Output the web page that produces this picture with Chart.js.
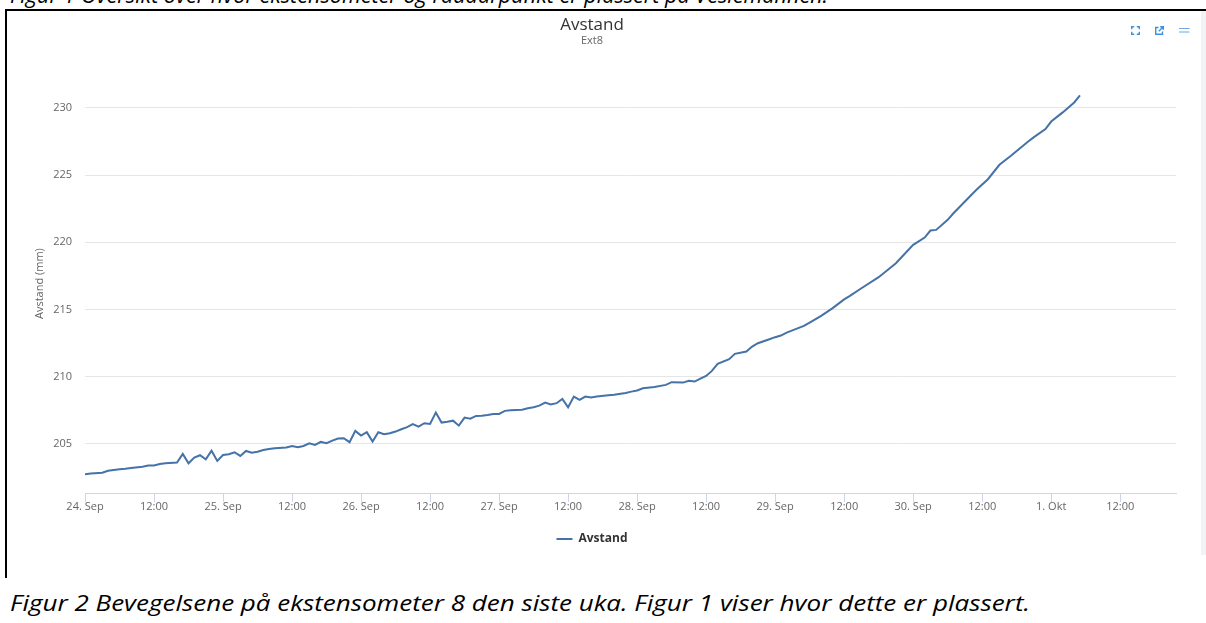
<!DOCTYPE html>
<html>
<head>
<meta charset="utf-8">
<script src="https://cdn.jsdelivr.net/npm/chart.js@4.4.0/dist/chart.umd.min.js"></script>
<style>
html,body{margin:0;padding:0;background:#fff;width:1206px;height:623px;overflow:hidden;position:relative;font-family:"Open Sans",sans-serif;}
#wrap{position:absolute;left:8px;top:11px;width:1206px;height:544px;}
.cap{position:absolute;left:10px;font-family:"Open Sans",sans-serif;font-style:italic;font-size:22px;color:#000;white-space:nowrap;transform-origin:0 0;line-height:26px;}
#cap1{top:-19px;}
#cap2{top:589px;}
#hline{position:absolute;left:5px;top:9px;width:1201px;height:2px;background:#000;}
#vline{position:absolute;left:5px;top:9px;width:2px;height:569px;background:#000;}
#rstrip{position:absolute;left:1201px;top:11px;width:5px;height:544px;background:#f1f3f5;}
.ico{position:absolute;top:26px;}
</style>
</head>
<body>
<div id="cap1" class="cap">Figur 1 Oversikt over hvor ekstensometer og raudarpunkt er plassert på Veslemannen.</div>
<div id="wrap"><canvas id="c" width="1206" height="544" style="width:1206px;height:544px;"></canvas></div>
<div id="hline"></div>
<div id="vline"></div>
<div id="rstrip"></div>
<svg class="ico" style="left:1131px" width="9" height="9" viewBox="0 0 9 9">
  <g stroke="#3d8fe0" stroke-width="1.4" fill="none">
    <path d="M0.7 3.2V0.7H3.2M5.8 0.7H8.3V3.2M8.3 5.8V8.3H5.8M3.2 8.3H0.7V5.8"/>
  </g>
</svg>
<svg class="ico" style="left:1155px" width="9" height="9" viewBox="0 0 9 9">
  <g stroke="#3d8fe0" stroke-width="1.4" fill="none">
    <path d="M3.5 1.5H0.7V8.3H7.5V5.5"/>
    <path d="M3.8 5.2L8.2 0.8M5.2 0.7H8.3V3.8"/>
  </g>
</svg>
<svg class="ico" style="left:1179px;top:27px" width="11" height="7" viewBox="0 0 11 7">
  <g stroke="#6da7e8" stroke-width="1.2">
    <path d="M0 1.5H10.5M0 5H10.5"/>
  </g>
</svg>
<div id="cap2" class="cap">Figur 2 Bevegelsene på ekstensometer 8 den siste uka. Figur 1 viser hvor dette er plassert.</div>
<script>
// ---- data (hours since 24. Sep 00:00) ----
const hours = [0,1,3,4,6,7,8,10,11,12,13,14,16,17,18,19,20,21,22,23,24,25,26,27,28,29,30,31,32,33,35,36,37,38,39,40,41,42,43,44,45,46,47,48,49,50,51,52,53,54,55,56,57,58,59,60,61,62,63,64,65,66,67,68,69,70,71,72,73,74,75,76,77,78,79,80,81,82,83,84,85,86,87,88,89,91,92,94,95,96,97,99,101,102,104,105,106,107,108,109,110,112,113,115,116,117,119,120,121,122,124,125,126,128,130,132,133,135,138,141,144,146,147,148,150,151,153,155,157,159,161,164,165,167,168,170,172,173];
const avstand = [202.74,202.80,202.86,203.01,203.12,203.16,203.21,203.31,203.39,203.39,203.51,203.56,203.61,204.26,203.56,203.98,204.16,203.86,204.50,203.74,204.18,204.23,204.38,204.11,204.48,204.35,204.42,204.55,204.62,204.68,204.73,204.85,204.75,204.85,205.05,204.93,205.15,205.06,205.25,205.40,205.42,205.13,205.97,205.62,205.87,205.17,205.87,205.72,205.80,205.92,206.09,206.25,206.47,206.29,206.54,206.49,207.33,206.59,206.65,206.73,206.36,206.96,206.88,207.08,207.10,207.16,207.23,207.23,207.46,207.50,207.53,207.55,207.66,207.73,207.85,208.08,207.93,208.03,208.35,207.73,208.52,208.27,208.52,208.45,208.52,208.62,208.66,208.79,208.89,208.97,209.14,209.24,209.39,209.59,209.56,209.69,209.64,209.86,210.06,210.43,210.95,211.30,211.70,211.87,212.24,212.49,212.79,212.94,213.06,213.28,213.61,213.78,214.03,214.52,215.10,215.75,216.01,216.58,217.40,218.44,219.81,220.35,220.87,220.92,221.67,222.16,223.03,223.90,224.69,225.76,226.43,227.49,227.82,228.42,228.98,229.66,230.40,230.92];
const yTicks = [205, 210, 215, 220, 225, 230];
const xTickHours = [0,12,24,36,48,60,72,84,96,108,120,132,144,156,168,180];
const xTickLabels = ['24. Sep','12:00','25. Sep','12:00','26. Sep','12:00','27. Sep','12:00','28. Sep','12:00','29. Sep','12:00','30. Sep','12:00','1. Okt','12:00'];
const seriesName = 'Avstand';
const chartTitle = 'Avstand';
const chartSubtitle = 'Ext8';
const yAxisTitle = 'Avstand (mm)';

// fit captions (Calibri-like width)
function fitCap(id, w){
  const el = document.getElementById(id);
  el.style.transform = 'none';
  const cw = el.getBoundingClientRect().width;
  el.style.transform = 'scaleX(' + (w / cw) + ')';
}
fitCap('cap1', 818);
fitCap('cap2', 1020);
if (document.fonts && document.fonts.ready) document.fonts.ready.then(()=>{fitCap('cap1',818);fitCap('cap2',1020);});

Chart.defaults.font.family = '"Open Sans", sans-serif';
const ctx = document.getElementById('c').getContext('2d');
new Chart(ctx, {
  type: 'line',
  data: {
    datasets: [{
      label: seriesName,
      data: hours.map((h, i) => ({x: h, y: avstand[i]})),
      borderColor: '#4572A7',
      backgroundColor: '#4572A7',
      borderWidth: 2,
      pointRadius: 0,
      tension: 0,
      fill: false
    }]
  },
  options: {
    responsive: false,
    animation: false,
    devicePixelRatio: 1,
    layout: {padding: {left: 0, right: 38, top: 0, bottom: 0}},
    plugins: {
      title: {display: true, text: chartTitle, color: '#333', font: {size: 17, weight: 'normal', lineHeight: 1}, padding: {top: 6, bottom: 0}},
      subtitle: {display: true, text: chartSubtitle, color: '#666', font: {size: 11, lineHeight: 1.2}, padding: {top: 0, bottom: 27}},
      legend: {position: 'bottom', labels: {usePointStyle: true, pointStyle: 'line', pointStyleWidth: 16, color: '#333', font: {size: 12, weight: 'bold'}, padding: 10}},
      tooltip: {enabled: false}
    },
    scales: {
      x: {
        type: 'linear', min: 0, max: 189.7,
        afterFit: s => { s.height = 30; },
        afterBuildTicks: s => { s.ticks = xTickHours.map(v => ({value: v})); },
        border: {display: true, color: '#ccd6eb', width: 1},
        grid: {display: true, drawOnChartArea: false, drawTicks: true, tickLength: 9, tickColor: '#ccd6eb'},
        ticks: {autoSkip: false, maxRotation: 0, minRotation: 0, padding: -2, color: '#666', font: {size: 11},
          callback: (v) => xTickLabels[xTickHours.indexOf(v)]}
      },
      y: {
        type: 'linear', min: 201.35, max: 232.5,
        afterFit: s => { s.width = 77; },
        afterBuildTicks: s => { s.ticks = yTicks.map(v => ({value: v})); },
        border: {display: false},
        grid: {color: '#e6e6e6', drawTicks: false, lineWidth: 1},
        ticks: {padding: 13, color: '#666', font: {size: 11}, callback: v => String(v)},
        title: {display: true, text: yAxisTitle, color: '#666', font: {size: 11}, padding: {top: 25, bottom: 0}}
      }
    }
  }
});
</script>
</body>
</html>
